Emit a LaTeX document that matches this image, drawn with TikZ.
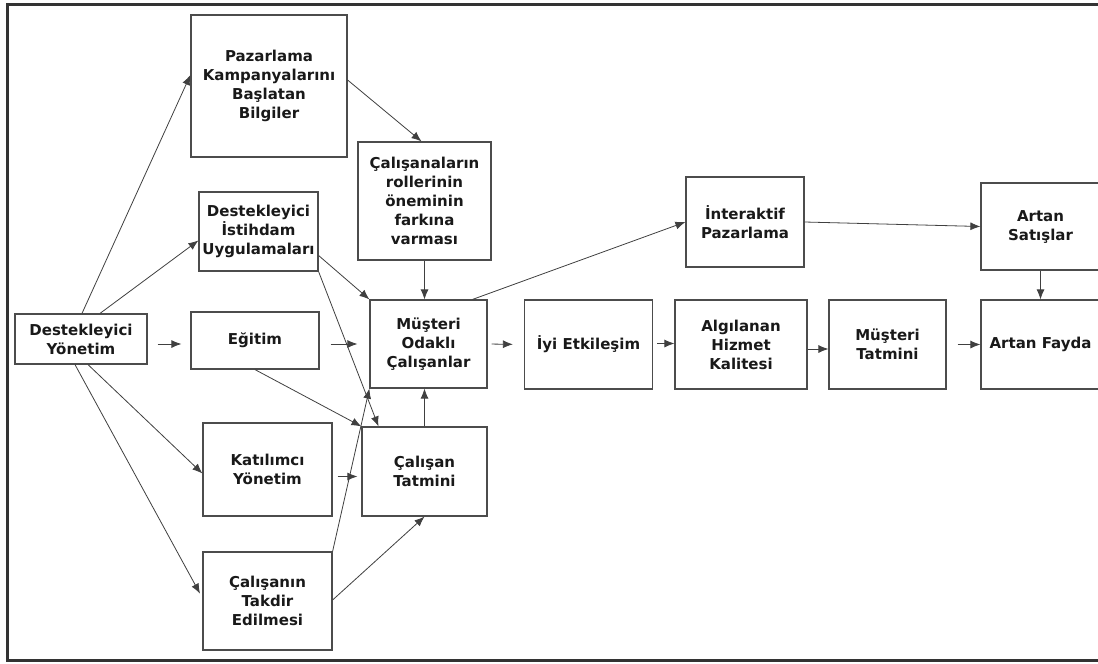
\documentclass[tikz,border=0pt]{standalone}
\usepackage{fontspec}
\setmainfont{DejaVu Sans}
\usetikzlibrary{arrows.meta}

\begin{document}
\begin{tikzpicture}[x=1pt, y=-1pt,
    kutu/.style={draw=black!70, line width=1.2pt, align=center, inner sep=0pt,
      text=black!90, font=\bfseries\fontsize{15}{19}\selectfont},
    ok/.style={draw=black!75, line width=0.8pt, -{Latex[length=10pt,width=8pt]}}]
\useasboundingbox (0,0) rectangle (1098,664);
\clip (0,0) rectangle (1098,664);
\fill[white] (0,0) rectangle (1098,664);
\draw[line width=3pt, black!80] (7,4) rectangle (1120,660);

\node[kutu, minimum width=156pt, minimum height=142pt] (pazar) at (269,86) {Pazarlama\\Kampanyalarını\\Başlatan\\Bilgiler};
\node[kutu, minimum width=133pt, minimum height=118pt] (calrol) at (424.5,201) {Çalışanaların\\rollerinin\\öneminin\\farkına\\varması};
\node[kutu, minimum width=119pt, minimum height=79pt] (istihdam) at (258.5,231.5) {Destekleyici\\İstihdam\\Uygulamaları};
\node[kutu, minimum width=117pt, minimum height=88pt] (mo) at (428.5,344) {Müşteri\\Odaklı\\Çalışanlar};
\node[kutu, minimum width=132pt, minimum height=50pt] (dy) at (81,339) {Destekleyici\\Yönetim};
\node[kutu, minimum width=128pt, minimum height=57pt] (egitim) at (255,340.5) {Eğitim};
\node[kutu, minimum width=129pt, minimum height=93pt] (katilim) at (267.5,469.5) {Katılımcı\\Yönetim};
\node[kutu, minimum width=125pt, minimum height=89pt] (tatmin) at (424.5,471.5) {Çalışan\\Tatmini};
\node[kutu, minimum width=129pt, minimum height=98pt] (takdir) at (267.5,601) {Çalışanın\\Takdir\\Edilmesi};
\node[kutu, minimum width=128pt, minimum height=89pt] (iyi) at (588.5,344.5) {İyi Etkileşim};
\node[kutu, minimum width=132pt, minimum height=89pt] (algi) at (741,344.5) {Algılanan\\Hizmet\\Kalitesi};
\node[kutu, minimum width=117pt, minimum height=89pt] (mt) at (887.5,344.5) {Müşteri\\Tatmini};
\node[kutu, minimum width=119pt, minimum height=89pt] (fayda) at (1040.5,344.5) {Artan Fayda};
\node[kutu, minimum width=118pt, minimum height=90pt] (inter) at (745,222) {İnteraktif\\Pazarlama};
\node[kutu, minimum width=119pt, minimum height=87pt] (satis) at (1040.5,226.5) {Artan\\Satışlar};

\draw[ok] ([xshift=1pt]dy.north) -- ([yshift=11pt]pazar.west);
\draw[ok] ([xshift=19pt]dy.north) -- ([yshift=-9pt]istihdam.west);
\draw[ok, shorten <=10pt, shorten >=9pt] ([yshift=-5pt]dy.east) -- ([yshift=-5pt]dy.east -| egitim.west);
\draw[ok] ([xshift=7pt]dy.south) -- ([yshift=-4pt]katilim.west);
\draw[ok, shorten >=5pt] ([xshift=-6pt]dy.south) -- ([yshift=3pt]takdir.west);
\draw[ok] ([yshift=6pt]pazar.east) -- ([xshift=-3pt]calrol.north);
\draw[ok] (calrol.south) -- (calrol.south |- mo.north);
\draw[ok] ([yshift=-24pt]istihdam.east) -- (mo.north west);
\draw[ok] (istihdam.south east) -- ([xshift=-46pt]tatmin.north);
\draw[ok, shorten <=11pt, shorten >=12pt] (egitim.east |- mo.west) -- (mo.west);
\draw[ok] (egitim.south) -- (tatmin.north west);
\draw[ok, shorten <=5pt, shorten >=4pt] ([yshift=-7pt]katilim.east) -- ([yshift=-7pt]katilim.east -| tatmin.west);
\draw[ok] (takdir.north east) -- (mo.south west);
\draw[ok] ([yshift=1pt]takdir.east) -- (tatmin.south);
\draw[ok] (tatmin.north) -- (tatmin.north |- mo.south);
\draw[ok, shorten <=4pt, shorten >=11pt] (mo.east) -- (iyi.west);
\draw[ok] ([xshift=-15pt]mo.north east) -- (inter.west);
\draw[ok, shorten <=4pt] ([yshift=1pt]iyi.east) -- ([yshift=1pt]iyi.east -| algi.west);
\draw[ok] ([yshift=-4.5pt]algi.east) -- ([yshift=-4.5pt]algi.east -| mt.west);
\draw[ok, shorten <=11pt] (mt.east) -- (fayda.west);
\draw[ok] (inter.east) -- (satis.west);
\draw[ok] (satis.south) -- (fayda.north);
\end{tikzpicture}
\end{document}
